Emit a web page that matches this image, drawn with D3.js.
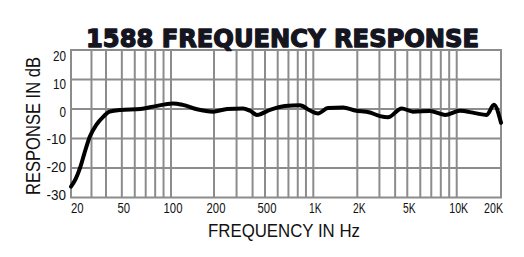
<!DOCTYPE html>
<html>
<head>
<meta charset="utf-8">
<script src="https://cdn.jsdelivr.net/npm/d3@7"></script>
<style>
  body { margin: 0; background: #fff; }
  svg { display: block; }
</style>
</head>
<body>
<div id="chart"></div>
<script>
// response curve
const freqs = [20, 22, 24, 26, 29, 33, 38, 42, 49, 65, 78, 103, 121, 152, 197, 253, 337, 382, 433,
  537, 666, 826, 953, 1077, 1260, 1600, 1930, 2520, 3030, 3510, 4510, 5410, 6870, 8490,
  10530, 13300, 16000, 17900, 20000];
const dB = [-26.3, -23.6, -19.8, -15.2, -9.4, -5.4, -2.6, -0.9, -0.3, 0, 0.8, 1.9, 1.4, -0.1, -0.9, 0, 0.2, -0.6, -2,
  -0.3, 1.0, 1.3, -0.5, -1.5, 0.3, 0.5, -0.5, -1.2, -2.4, -2.8, 0.2, -0.9, -0.7, -2,
  -0.6, -1.4, -2, 1.4, -4.7];

const gridFreqs = [30, 40, 50, 60, 70, 80, 90, 100, 200, 300, 400, 500, 600, 700, 800, 900,
  1000, 2000, 3000, 4000, 5000, 6000, 7000, 8000, 9000, 10000];
const tickFreqs = [20, 50, 100, 200, 500, 1000, 2000, 5000, 10000, 20000];
const tickNames = ["20", "50", "100", "200", "500", "1K", "2K", "5K", "10K", "20K"];
const dbTicks = [20, 10, 0, -10, -20, -30];

const width = 524, height = 257;
const plotL = 71, plotR = 501, plotT = 50, plotB = 197.5;

// the printed axis isn't a clean log scale, so calibrate it at a few frequencies
const x = d3.scaleLog()
  .domain([20, 40, 100, 200, 500, 1000, 2000, 5000, 10000, 20000])
  .range([plotL, 106, 171, 214, 265, 313.3, 357.3, 407.3, 456.7, plotR]);
const y = d3.scaleLinear().domain([20, -30]).range([plotT, plotB]);
const yLabel = d3.scaleLinear().domain([20, -30]).range([56, 195]);

const svg = d3.select("#chart").append("svg")
  .attr("width", width)
  .attr("height", height);

const narrow = "'Liberation Sans Narrow', 'Liberation Sans', sans-serif";

// grid
svg.append("g")
  .selectAll("line")
  .data(gridFreqs)
  .join("line")
  .attr("x1", d => x(d)).attr("x2", d => x(d))
  .attr("y1", plotT).attr("y2", plotB)
  .attr("stroke", "#8c8c8c")
  .attr("stroke-width", 2);

svg.append("g")
  .selectAll("line")
  .data(dbTicks.slice(1, -1))
  .join("line")
  .attr("x1", plotL).attr("x2", plotR)
  .attr("y1", d => y(d)).attr("y2", d => y(d))
  .attr("stroke", "#8c8c8c")
  .attr("stroke-width", 2);

svg.append("rect")
  .attr("x", plotL).attr("y", plotT)
  .attr("width", plotR - plotL).attr("height", plotB - plotT)
  .attr("fill", "none")
  .attr("stroke", "#8c8c8c")
  .attr("stroke-width", 2);

// curve
const line = d3.line()
  .x((d, i) => x(freqs[i]))
  .y(d => y(d))
  .curve(d3.curveMonotoneX);

svg.append("path")
  .datum(dB)
  .attr("d", line)
  .attr("fill", "none")
  .attr("stroke", "#000")
  .attr("stroke-width", 4)
  .attr("stroke-linejoin", "round")
  .attr("stroke-linecap", "round");

// tick labels (the original face is a narrow one, squeeze to match)
svg.append("g")
  .attr("font-family", narrow)
  .attr("font-size", 15)
  .attr("fill", "#111")
  .selectAll("text")
  .data(tickFreqs)
  .join("text")
  .attr("x", (d, i) => i === 0 ? plotL : i === tickFreqs.length - 1 ? plotR + 2 : x(d) + 2)
  .attr("y", 213)
  .attr("text-anchor", (d, i) => i === 0 ? "start" : i === tickFreqs.length - 1 ? "end" : "middle")
  .attr("textLength", (d, i) => tickNames[i].length * 6.3)
  .attr("lengthAdjust", "spacingAndGlyphs")
  .text((d, i) => tickNames[i]);

svg.append("g")
  .attr("font-family", narrow)
  .attr("font-size", 14)
  .attr("fill", "#111")
  .attr("text-anchor", "end")
  .selectAll("text")
  .data(dbTicks)
  .join("text")
  .attr("x", 66)
  .attr("y", d => yLabel(d))
  .attr("dy", "0.35em")
  .attr("textLength", d => String(d).length * 6.5)
  .attr("lengthAdjust", "spacingAndGlyphs")
  .text(d => d);

// titles
svg.append("text")
  .attr("x", 282.5).attr("y", 47)
  .attr("text-anchor", "middle")
  .attr("font-family", "'DejaVu Sans', sans-serif")
  .attr("font-weight", 900)
  .attr("font-size", 25)
  .attr("fill", "#15151f")
  .attr("stroke", "#15151f")
  .attr("stroke-width", 1.4)
  .attr("stroke-linejoin", "round")
  .attr("textLength", 393)
  .attr("lengthAdjust", "spacingAndGlyphs")
  .text("1588 FREQUENCY RESPONSE");

svg.append("text")
  .attr("x", 284).attr("y", 237)
  .attr("text-anchor", "middle")
  .attr("font-family", narrow)
  .attr("font-size", 19)
  .attr("fill", "#111")
  .attr("textLength", 152)
  .attr("lengthAdjust", "spacingAndGlyphs")
  .text("FREQUENCY IN Hz");

svg.append("text")
  .attr("transform", "translate(40,126) rotate(-90)")
  .attr("text-anchor", "middle")
  .attr("font-family", narrow)
  .attr("font-size", 20)
  .attr("fill", "#111")
  .attr("textLength", 138)
  .attr("lengthAdjust", "spacingAndGlyphs")
  .text("RESPONSE IN dB");
</script>
</body>
</html>
